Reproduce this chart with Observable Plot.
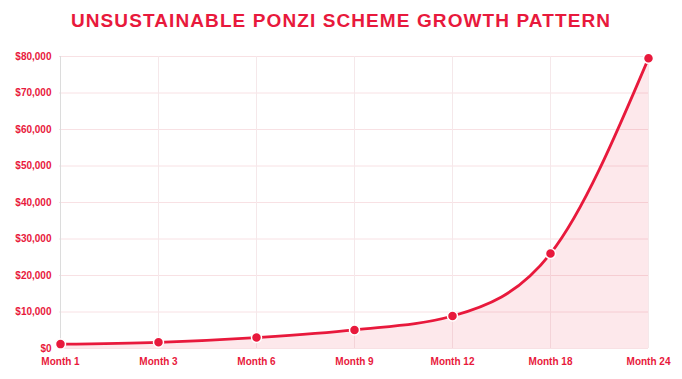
<!DOCTYPE html>
<html>
<head>
<meta charset="utf-8">
<script src="https://cdn.jsdelivr.net/npm/d3@7"></script>
<script src="https://cdn.jsdelivr.net/npm/@observablehq/plot@0.6"></script>
<style>
  html, body { margin: 0; padding: 0; background: #fff; }
  body { width: 682px; height: 379px; overflow: hidden; font-family: "Liberation Sans", Arial, sans-serif; }
  #title { height: 40px; line-height: 41px; text-align: center; color: #e8193c; font-weight: bold; font-size: 19px; letter-spacing: 1.1px; }
  svg { display: block; }
</style>
</head>
<body>
<div id="title">UNSUSTAINABLE PONZI SCHEME GROWTH PATTERN</div>
<div id="chart"></div>
<script>
const months = ["Month 1", "Month 3", "Month 6", "Month 9", "Month 12", "Month 18", "Month 24"];
const values = [1200, 1700, 3000, 5100, 8900, 26000, 79500];
const yTicks = [0, 10000, 20000, 30000, 40000, 50000, 60000, 70000, 80000];

const data = months.map((m, i) => ({month: m, value: values[i]}));
const red = "#e8193c";

const chart = Plot.plot({
  width: 682,
  height: 339,
  marginLeft: 59,
  marginRight: 34,
  marginTop: 16,
  marginBottom: 31,
  style: {fontFamily: "'Liberation Sans', Arial, sans-serif", fontWeight: "bold", fontSize: "10px", color: red, background: "transparent"},
  x: {type: "point", domain: months, padding: 0, label: null},
  y: {domain: [0, 80000], label: null},
  marks: [
    Plot.gridY(yTicks, {stroke: "#f8e1e4", strokeOpacity: 1}),
    Plot.gridX(months, {stroke: "#f5e8ea", strokeOpacity: 1}),
    Plot.ruleX([months[0]], {stroke: "#dcdcdc"}),
    Plot.areaY(data, {x: "month", y: "value", curve: "monotone-x", fill: red, fillOpacity: 0.1}),
    Plot.lineY(data, {x: "month", y: "value", curve: "monotone-x", stroke: red, strokeWidth: 2.8}),
    Plot.dot(data, {x: "month", y: "value", r: 5, fill: red, stroke: "#fff", strokeWidth: 1.5}),
    Plot.axisY(yTicks, {tickSize: 0, tickPadding: 8, tickFormat: d => "$" + d3.format(",")(d), fill: red, fontWeight: "bold", fontSize: 10}),
    Plot.axisX(months, {tickSize: 0, tickPadding: 9, fill: red, fontWeight: "bold", fontSize: 10})
  ]
});
document.getElementById("chart").appendChild(chart);
</script>
</body>
</html>
